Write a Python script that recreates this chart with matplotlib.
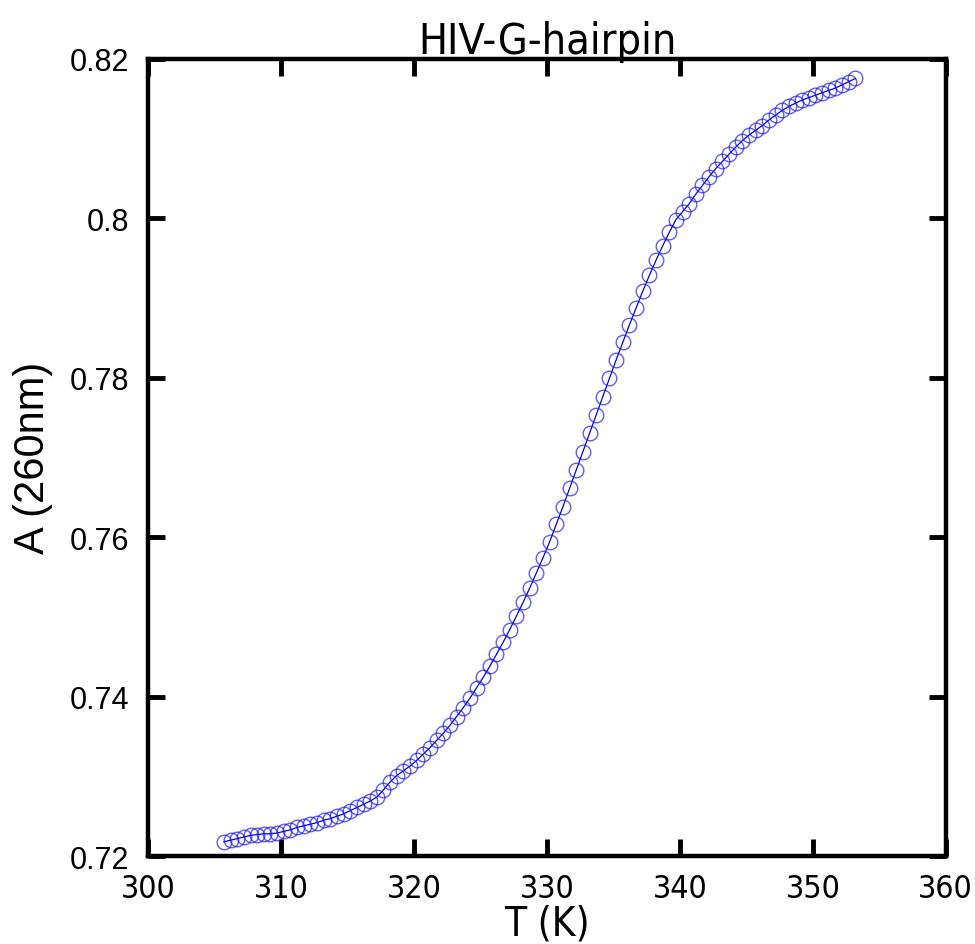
import matplotlib
matplotlib.use('Agg')
import matplotlib.pyplot as plt

# temperature (K) and absorbance at 260 nm
temp = [305.7, 306.2, 306.7, 307.2, 307.7, 308.2, 308.7, 309.2, 309.7, 310.2,
        310.7, 311.2, 311.7, 312.2, 312.7, 313.2, 313.7, 314.2, 314.7, 315.2,
        315.7, 316.2, 316.7, 317.2, 317.7, 318.2, 318.7, 319.2, 319.7, 320.2,
        320.7, 321.2, 321.7, 322.2, 322.7, 323.2, 323.7, 324.2, 324.7, 325.2,
        325.7, 326.2, 326.7, 327.2, 327.7, 328.2, 328.7, 329.2, 329.7, 330.2,
        330.7, 331.2, 331.7, 332.2, 332.7, 333.2, 333.7, 334.2, 334.7, 335.2,
        335.7, 336.2, 336.7, 337.2, 337.7, 338.2, 338.7, 339.2, 339.7, 340.2,
        340.7, 341.2, 341.7, 342.2, 342.7, 343.2, 343.7, 344.2, 344.7, 345.2,
        345.7, 346.2, 346.7, 347.2, 347.7, 348.2, 348.7, 349.2, 349.7, 350.2,
        350.7, 351.2, 351.7, 352.2, 352.7, 353.2]
absorb = [0.7218, 0.7220, 0.7222, 0.7224, 0.7226, 0.7227, 0.7228, 0.7228, 0.7229, 0.7231,
          0.7233, 0.7236, 0.7238, 0.7240, 0.7242, 0.7245, 0.7247, 0.7250, 0.7253, 0.7257,
          0.7261, 0.7265, 0.7269, 0.7274, 0.7283, 0.7293, 0.7301, 0.7307, 0.7313, 0.7320,
          0.7328, 0.7336, 0.7345, 0.7354, 0.7364, 0.7375, 0.7386, 0.7398, 0.7411, 0.7424,
          0.7438, 0.7453, 0.7468, 0.7484, 0.7501, 0.7518, 0.7536, 0.7555, 0.7574, 0.7594,
          0.7616, 0.7638, 0.7661, 0.7684, 0.7707, 0.7730, 0.7753, 0.7776, 0.7799, 0.7822,
          0.7844, 0.7866, 0.7887, 0.7908, 0.7928, 0.7947, 0.7965, 0.7982, 0.7998, 0.8008,
          0.8018, 0.8030, 0.8041, 0.8052, 0.8062, 0.8071, 0.8080, 0.8089, 0.8097, 0.8104,
          0.8110, 0.8116, 0.8123, 0.8129, 0.8135, 0.8140, 0.8144, 0.8148, 0.8151, 0.8154,
          0.8157, 0.8160, 0.8163, 0.8167, 0.8171, 0.8175]

xticks = [300, 310, 320, 330, 340, 350, 360]
yticks = [0.72, 0.74, 0.76, 0.78, 0.80, 0.82]
ytick_labels = ['0.72', '0.74', '0.76', '0.78', '0.8', '0.82']

sans = ['Liberation Sans', 'DejaVu Sans']

fig = plt.figure(figsize=(9.75, 9.45), dpi=100)
ax = fig.add_axes([0.152, 0.093, 0.818, 0.844])

ax.plot(temp, absorb, color='#0000ee', linewidth=0.9, zorder=2)
ax.plot(temp, absorb, linestyle='none', marker='o', markersize=10.5,
        markerfacecolor='none', markeredgecolor=(0.1, 0.1, 0.95, 0.7),
        markeredgewidth=1.0, zorder=3)

ax.set_xlim(300, 360)
ax.set_ylim(0.72, 0.82)
ax.set_xticks(xticks)
ax.set_yticks(yticks)
ax.set_yticklabels(ytick_labels)

for s in ax.spines.values():
    s.set_linewidth(3.2)
ax.tick_params(direction='in', length=12, width=3.5, top=True, right=True)
ax.tick_params(axis='y', pad=14)
ax.tick_params(axis='x', pad=12)
for lab in ax.get_yticklabels():
    lab.set_family(sans)
    lab.set_fontsize(22)
for lab in ax.get_xticklabels():
    lab.set_family('DejaVu Sans')
    lab.set_stretch('condensed')
    lab.set_fontsize(23)

ax.set_xlabel('T (K)', family='DejaVu Sans', stretch='condensed', fontsize=29, labelpad=0)
ax.set_ylabel('A (260nm)', family=sans, fontsize=30, labelpad=12)
ax.set_title('HIV-G-hairpin', family='DejaVu Sans', stretch='condensed', fontsize=31, pad=4)

fig.savefig('out.png', dpi=100)
